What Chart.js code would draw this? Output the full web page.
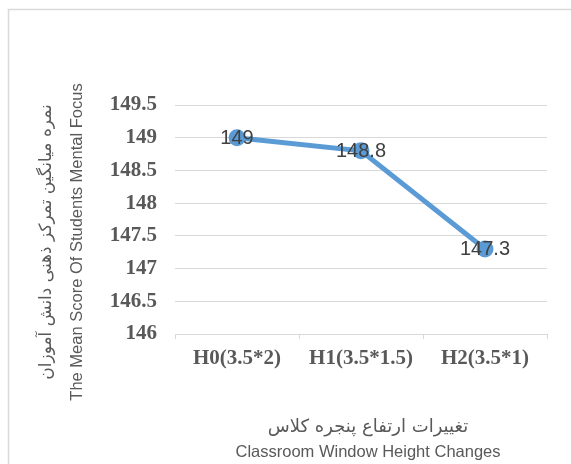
<!DOCTYPE html>
<html>
<head>
<meta charset="utf-8">
<script src="https://cdn.jsdelivr.net/npm/chart.js@4"></script>
<style>
html,body{margin:0;padding:0;background:#fff;}
#wrap{width:571px;height:464px;position:relative;}
</style>
</head>
<body>
<div id="wrap"><canvas id="c" width="571" height="464"></canvas></div>
<script>
const categories = ["H0(3.5*2)", "H1(3.5*1.5)", "H2(3.5*1)"];
const meanScores = [149, 148.8, 147.3];
const dataLabels = ["149", "148.8", "147.3"];
const yTitleLines = ["نمره میانگین تمرکز ذهنی دانش آموزان", "The Mean Score Of Students Mental Focus"];
const xTitleLines = ["تغییرات ارتفاع پنجره کلاس", "Classroom Window Height Changes"];

const decor = {
  id: 'decor',
  beforeDraw(chart) {
    const ctx = chart.ctx;
    ctx.save();
    ctx.strokeStyle = '#d9d9d9';
    ctx.lineWidth = 1.5;
    ctx.strokeRect(8.5, 9.5, 700, 600);
    ctx.restore();
  },
  afterDraw(chart) {
    const ctx = chart.ctx;
    const meta = chart.getDatasetMeta(0);
    ctx.save();
    ctx.font = '20px "Liberation Sans", Arial, sans-serif';
    ctx.fillStyle = '#404040';
    ctx.textAlign = 'center';
    ctx.textBaseline = 'middle';
    meta.data.forEach((pt, i) => {
      ctx.fillText(dataLabels[i], pt.x, pt.y + 1);
    });
    const cx = 368;
    ctx.fillStyle = '#595959';
    ctx.font = '18px "DejaVu Sans", sans-serif';
    ctx.direction = 'rtl';
    ctx.fillText(xTitleLines[0], cx, 427);
    ctx.direction = 'ltr';
    ctx.font = '16.5px "Liberation Sans", Arial, sans-serif';
    ctx.fillText(xTitleLines[1], cx, 452);
    ctx.save();
    ctx.translate(47, 242);
    ctx.rotate(-Math.PI / 2);
    ctx.font = '17px "DejaVu Sans", sans-serif';
    ctx.direction = 'rtl';
    ctx.fillText(yTitleLines[0], 0, 0);
    ctx.restore();
    ctx.save();
    ctx.translate(77, 242);
    ctx.rotate(-Math.PI / 2);
    ctx.font = '16.5px "Liberation Sans", Arial, sans-serif';
    ctx.direction = 'ltr';
    ctx.fillText(yTitleLines[1], 0, 0);
    ctx.restore();
    ctx.restore();
  }
};

new Chart(document.getElementById('c'), {
  type: 'line',
  data: {
    labels: categories,
    datasets: [{
      data: meanScores,
      borderColor: '#5B9BD5',
      backgroundColor: '#5B9BD5',
      borderWidth: 5,
      pointRadius: 6,
      pointHoverRadius: 6,
      pointBackgroundColor: '#5B9BD5',
      pointBorderColor: '#5B9BD5',
      tension: 0,
      fill: false
    }]
  },
  options: {
    responsive: false,
    animation: false,
    devicePixelRatio: 1,
    layout: { padding: { left: 0, top: 105, right: 24, bottom: 0 } },
    plugins: { legend: { display: false }, tooltip: { enabled: false }, title: { display: false } },
    scales: {
      x: {
        offset: true,
        grid: { offset: true, drawOnChartArea: false, drawTicks: true, tickLength: 5, color: '#d9d9d9' },
        border: { display: true, color: '#d9d9d9', width: 1 },
        ticks: { color: '#595959', font: { family: '"Liberation Serif", "Times New Roman", serif', size: 21, weight: 'bold' }, padding: 7, maxRotation: 0 },
        afterFit(scale) { scale.height = 130; }
      },
      y: {
        min: 146, max: 149.5,
        grid: { color: '#d9d9d9', drawTicks: false, lineWidth: 1 },
        border: { display: false },
        ticks: { stepSize: 0.5, color: '#595959', padding: 18, font: { family: '"Liberation Serif", "Times New Roman", serif', size: 21, weight: 'bold' }, callback: v => String(v) },
        afterFit(scale) { scale.width = 175; }
      }
    }
  },
  plugins: [decor]
});
</script>
</body>
</html>
